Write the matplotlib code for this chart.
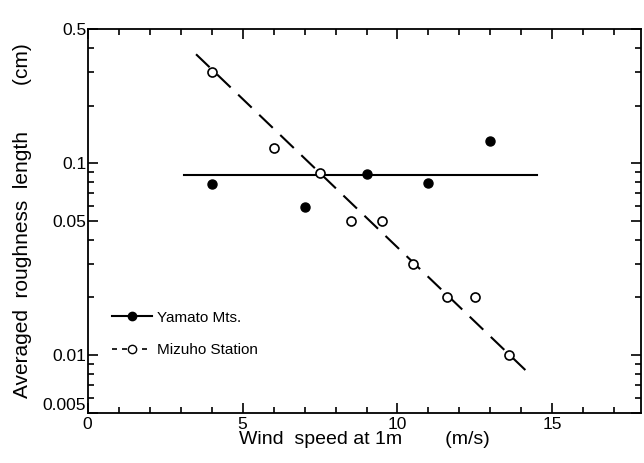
import numpy as np
import matplotlib
matplotlib.use('Agg')
import matplotlib.pyplot as plt
import matplotlib.ticker as ticker

plt.rcParams['font.family'] = ['Liberation Sans', 'DejaVu Sans']

# Yamato Mts. (filled)
yamato_wind = [4.0, 7.0, 9.0, 11.0, 13.0]
yamato_z0 = [0.078, 0.059, 0.088, 0.079, 0.13]
yamato_fit_x = [3.1, 14.5]
yamato_fit_y = [0.087, 0.087]

# Mizuho Station (open)
mizuho_wind = [4.0, 6.0, 7.5, 8.5, 9.5, 10.5, 11.6, 12.5, 13.6]
mizuho_z0 = [0.30, 0.12, 0.089, 0.050, 0.050, 0.030, 0.020, 0.020, 0.010]
mizuho_fit_x = [3.5, 14.15]
mizuho_fit_y = [0.37, 0.0083]

y_ticks = [0.5, 0.1, 0.05, 0.01, 0.005]
y_ticklabels = ['0.5', '0.1', '0.05', '0.01', '0.005']

fig = plt.figure(figsize=(6.44, 4.63), dpi=100, facecolor='w')
ax = fig.add_axes([0.136, 0.108, 0.859, 0.829])

ax.plot(yamato_fit_x, yamato_fit_y, '-', color='k', linewidth=1.5)
ax.plot(mizuho_fit_x, mizuho_fit_y, color='k', linewidth=1.5, dashes=(9, 5))

ax.plot(yamato_wind, yamato_z0, 'o', color='k', markersize=6.5, zorder=3)
ax.plot(mizuho_wind, mizuho_z0, 'o', markerfacecolor='w', markeredgecolor='k',
        markeredgewidth=1.2, markersize=6.5, zorder=3)

# legend handles
ax.plot([], [], '-o', color='k', markersize=6, linewidth=1.5, label='Yamato Mts.')
ax.plot([], [], '--o', color='k', markerfacecolor='w', markersize=6, linewidth=1.2,
        dashes=(3, 3), label='Mizuho Station')
h, l = ax.get_legend_handles_labels()
ax.legend(h[-2:], l[-2:], loc='lower left', bbox_to_anchor=(0.02, 0.11),
          frameon=False, fontsize=11, handlelength=2.6, handletextpad=0.3,
          labelspacing=1.2)

ax.set_yscale('log')
ax.set_xlim(0, 17.85)
ax.set_ylim(0.005, 0.5)

ax.xaxis.set_major_locator(ticker.MultipleLocator(5))
ax.xaxis.set_minor_locator(ticker.MultipleLocator(1))
ax.set_yticks(y_ticks)
ax.set_yticklabels(y_ticklabels)
ax.yaxis.set_minor_locator(ticker.LogLocator(base=10, subs=np.arange(2, 10)))
ax.yaxis.set_minor_formatter(ticker.NullFormatter())
# bottom label sits just above the corner, as in the original
ax.get_yticklabels()[-1].set_verticalalignment('bottom')

ax.tick_params(which='both', direction='in', top=True, right=True, labelsize=12.5,
               width=1.2)
ax.tick_params(axis='x', pad=3)
ax.tick_params(axis='y', pad=1)
ax.tick_params(which='major', length=7)
ax.tick_params(which='minor', length=4)
for s in ax.spines.values():
    s.set_linewidth(1.3)

ax.set_xlabel('Wind  speed at 1m        (m/s)', fontsize=14, labelpad=-1)
ax.set_ylabel('Averaged  roughness  length        (cm)', fontsize=15, labelpad=8)

fig.savefig('out.png', dpi=100)
